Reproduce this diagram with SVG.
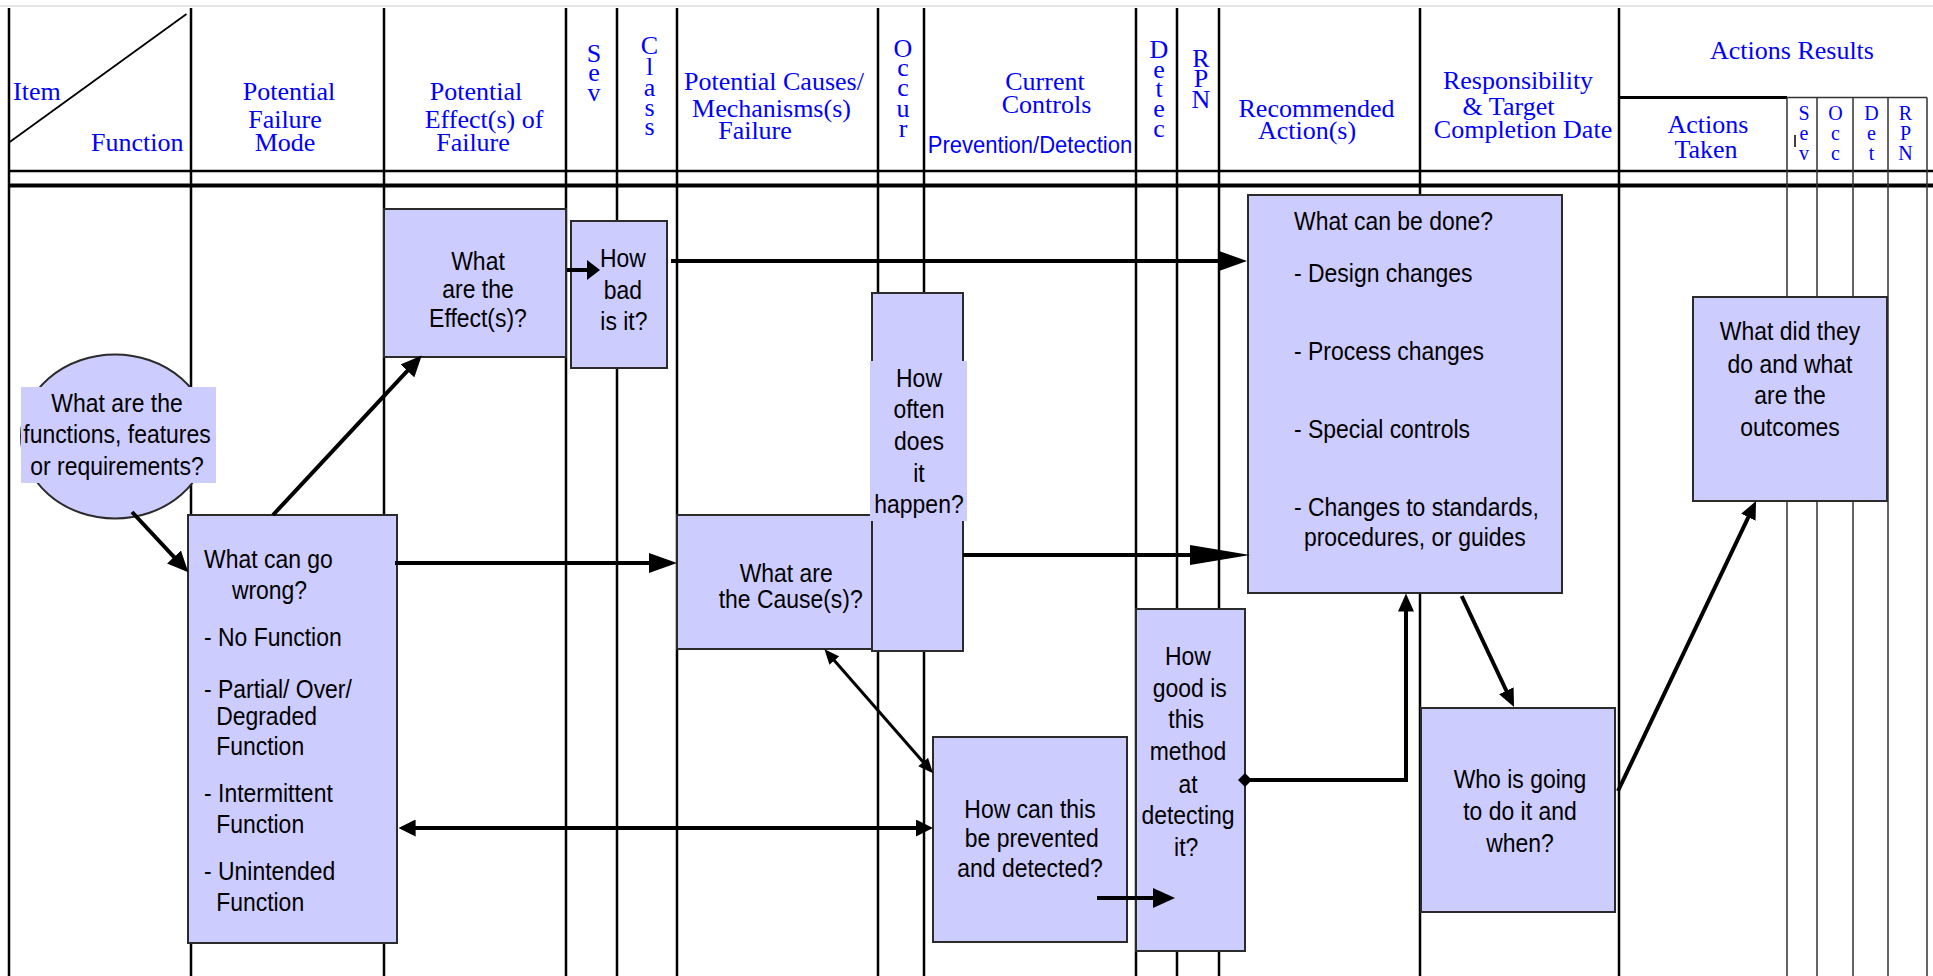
<svg xmlns="http://www.w3.org/2000/svg" width="1933" height="976" viewBox="0 0 1933 976">
  <style>
    .grid { stroke: #000; stroke-width: 2.5; fill: none; }
    .thin { stroke: #333; stroke-width: 1.5; fill: none; }
    .box { fill: #CCCCFF; stroke: #2b2b2b; stroke-width: 2; }
    .lbl { fill: #CCCCFF; stroke: none; }
    .h { font-family: "Liberation Serif", "Times New Roman", serif; font-size: 26px; fill: #0000FF; text-anchor: middle; }
    .hs { font-family: "Liberation Serif", "Times New Roman", serif; font-size: 20px; fill: #0000FF; text-anchor: middle; }
    .hl { text-anchor: start; }
    .hsans { font-family: "Liberation Sans", Arial, sans-serif; font-size: 24.5px; fill: #0000FF; text-anchor: middle; }
    .t { font-family: "Liberation Sans", Arial, sans-serif; font-size: 25.5px; fill: #000; }
    .c { text-anchor: middle; }
    .con { stroke: #000; stroke-width: 4; fill: none; stroke-linecap: butt; stroke-linejoin: miter; }
    .con3 { stroke: #000; stroke-width: 3; fill: none; }
  </style>
  <defs>
    <marker id="hA" viewBox="0 0 21 19" refX="16" refY="9.5" markerWidth="21" markerHeight="19" markerUnits="userSpaceOnUse" orient="auto-start-reverse"><path d="M0,0 L21,9.5 L0,19 Z" fill="#000"/></marker>
    <marker id="hB" viewBox="0 0 28 20" refX="22" refY="10" markerWidth="28" markerHeight="20" markerUnits="userSpaceOnUse" orient="auto-start-reverse"><path d="M0,0 L28,10 L0,20 Z" fill="#000"/></marker>
    <marker id="hC" viewBox="0 0 60 20" refX="48" refY="10" markerWidth="60" markerHeight="20" markerUnits="userSpaceOnUse" orient="auto-start-reverse"><path d="M0,0 L60,10 L0,20 Z" fill="#000"/></marker>
    <marker id="hD" viewBox="0 0 17 17" refX="13" refY="8.5" markerWidth="17" markerHeight="17" markerUnits="userSpaceOnUse" orient="auto-start-reverse"><path d="M0,0 L17,8.5 L0,17 Z" fill="#000"/></marker>
    <marker id="hE" viewBox="0 0 15 13" refX="11" refY="6.5" markerWidth="15" markerHeight="13" markerUnits="userSpaceOnUse" orient="auto-start-reverse"><path d="M0,0 L15,6.5 L0,13 Z" fill="#000"/></marker>
    <marker id="hF" viewBox="0 0 18 16" refX="13" refY="8" markerWidth="18" markerHeight="16" markerUnits="userSpaceOnUse" orient="auto-start-reverse"><path d="M0,0 L18,8 L0,16 Z" fill="#000"/></marker>
    <marker id="hG" viewBox="0 0 13 20" refX="10" refY="10" markerWidth="13" markerHeight="20" markerUnits="userSpaceOnUse" orient="auto-start-reverse"><path d="M0,0 L13,10 L0,20 Z" fill="#000"/></marker>
    <marker id="hH" viewBox="0 0 22 20" refX="17" refY="10" markerWidth="22" markerHeight="20" markerUnits="userSpaceOnUse" orient="auto-start-reverse"><path d="M0,0 L22,10 L0,20 Z" fill="#000"/></marker>
    <marker id="dia" viewBox="0 0 14 14" refX="7" refY="7" markerWidth="14" markerHeight="14" markerUnits="userSpaceOnUse" orient="auto"><path d="M0,7 L7,0 L14,7 L7,14 Z" fill="#000"/></marker>
  </defs>

  <rect width="1933" height="976" fill="#fff"/>

  <!-- worksheet grid -->
  <g id="grid">
    <line x1="0" y1="6" x2="1933" y2="6" stroke="#dcdcdc" stroke-width="1.5"/>
    <path class="grid" d="M9,8V976 M191,8V976 M384,8V976 M566,8V976 M617,8V976 M677,8V976 M878,8V976 M924,8V976 M1136,8V976 M1177,8V976 M1219,8V976 M1420,8V976 M1619,8V976"/>
    <line x1="9" y1="142.5" x2="186.5" y2="14" stroke="#000" stroke-width="1.8"/>
    <line x1="9" y1="171" x2="1933" y2="171" stroke="#000" stroke-width="2.5"/>
    <line x1="9" y1="185.5" x2="1933" y2="185.5" stroke="#000" stroke-width="4"/>
    <line x1="1619" y1="97.5" x2="1787" y2="97.5" stroke="#000" stroke-width="3"/>
    <path class="thin" d="M1787,97.5H1927 M1787,97.5V976 M1817,97.5V976 M1853,97.5V976 M1888,97.5V976 M1927,97.5V976"/>
    <line x1="1795" y1="135" x2="1795" y2="147" stroke="#000" stroke-width="1.5"/>
  </g>

  <!-- column headings -->
  <g id="headings">
    <text class="h hl" x="13" y="100">Item</text>
    <text class="h hl" x="91" y="151">Function</text>
    <text class="h" x="289" y="100">Potential</text>
    <text class="h" x="285" y="128">Failure</text>
    <text class="h" x="285" y="151">Mode</text>
    <text class="h" x="476" y="100">Potential</text>
    <text class="h" x="484" y="128">Effect(s) of</text>
    <text class="h" x="473" y="151">Failure</text>
    <text class="h"><tspan x="594" y="62">S</tspan><tspan x="594" y="81">e</tspan><tspan x="594" y="101">v</tspan></text>
    <text class="h"><tspan x="649.5" y="54">C</tspan><tspan x="649.5" y="75">l</tspan><tspan x="649.5" y="96">a</tspan><tspan x="649.5" y="116">s</tspan><tspan x="649.5" y="135">s</tspan></text>
    <text class="h" x="774" y="90">Potential Causes/</text>
    <text class="h" x="771.5" y="117">Mechanisms(s)</text>
    <text class="h" x="755" y="139">Failure</text>
    <text class="h"><tspan x="903" y="57">O</tspan><tspan x="903" y="76">c</tspan><tspan x="903" y="96">c</tspan><tspan x="903" y="117">u</tspan><tspan x="903" y="137">r</tspan></text>
    <text class="h" x="1045" y="90">Current</text>
    <text class="h" x="1046.5" y="113">Controls</text>
    <text class="hsans" x="1030" y="153" transform="matrix(0.9 0 0 1 103 0)">Prevention/Detection</text>
    <text class="h"><tspan x="1159" y="58">D</tspan><tspan x="1159" y="78">e</tspan><tspan x="1159" y="97">t</tspan><tspan x="1159" y="117">e</tspan><tspan x="1159" y="137">c</tspan></text>
    <text class="h"><tspan x="1201" y="67">R</tspan><tspan x="1201" y="87">P</tspan><tspan x="1201" y="108">N</tspan></text>
    <text class="h" x="1316.5" y="117">Recommended</text>
    <text class="h" x="1307" y="139">Action(s)</text>
    <text class="h" x="1518" y="89">Responsibility</text>
    <text class="h" x="1508.5" y="115">&amp; Target</text>
    <text class="h" x="1523" y="138">Completion Date</text>
    <text class="h" x="1792" y="59">Actions Results</text>
    <text class="h" x="1708" y="133">Actions</text>
    <text class="h" x="1706" y="158">Taken</text>
    <text class="hs"><tspan x="1804" y="120">S</tspan><tspan x="1804" y="140">e</tspan><tspan x="1804" y="160">v</tspan></text>
    <text class="hs"><tspan x="1835.5" y="120">O</tspan><tspan x="1835.5" y="140">c</tspan><tspan x="1835.5" y="160">c</tspan></text>
    <text class="hs"><tspan x="1871.5" y="120">D</tspan><tspan x="1871.5" y="140">e</tspan><tspan x="1871.5" y="160">t</tspan></text>
    <text class="hs"><tspan x="1905.5" y="120">R</tspan><tspan x="1905.5" y="140">P</tspan><tspan x="1905.5" y="160">N</tspan></text>
  </g>

  <!-- nodes (body text is narrowed horizontally about its anchor) -->
  <g id="functions">
    <ellipse class="box" cx="115" cy="436.5" rx="94" ry="82" stroke-width="1.5"/>
    <rect class="lbl" x="21" y="387" width="195" height="96"/>
    <text class="t c" transform="matrix(0.9 0 0 1 11.7 0)"><tspan x="117" y="412">What are the</tspan><tspan x="117" y="443">functions, features</tspan><tspan x="117" y="475">or requirements?</tspan></text>
  </g>

  <g id="failure-mode">
    <rect class="box" x="188" y="515" width="209" height="428"/>
    <text class="t" transform="matrix(0.9 0 0 1 20.4 0)"><tspan x="204" y="568">What can go</tspan><tspan x="235" y="599">wrong?</tspan><tspan x="204" y="646">- No Function</tspan><tspan x="204" y="698">- Partial/ Over/</tspan><tspan x="217.5" y="725">Degraded</tspan><tspan x="217.5" y="755">Function</tspan><tspan x="204" y="802">- Intermittent</tspan><tspan x="217.5" y="833">Function</tspan><tspan x="204" y="880">- Unintended</tspan><tspan x="217.5" y="911">Function</tspan></text>
  </g>

  <g id="effects">
    <rect class="box" x="384" y="209" width="182" height="148"/>
    <text class="t c" transform="matrix(0.9 0 0 1 47.8 0)"><tspan x="478" y="270">What</tspan><tspan x="478" y="298">are the</tspan><tspan x="478" y="327">Effect(s)?</tspan></text>
  </g>

  <g id="severity">
    <rect class="box" x="571" y="221" width="96" height="147"/>
    <text class="t c" transform="matrix(0.9 0 0 1 62.3 0)"><tspan x="623" y="267">How</tspan><tspan x="623" y="299">bad</tspan><tspan x="624" y="330">is it?</tspan></text>
  </g>

  <g id="causes">
    <rect class="box" x="677" y="515" width="198" height="134"/>
    <text class="t c" transform="matrix(0.9 0 0 1 78.8 0)"><tspan x="786" y="582">What are</tspan><tspan x="791" y="608">the Cause(s)?</tspan></text>
  </g>

  <g id="occurrence">
    <rect class="box" x="872" y="293" width="91" height="358"/>
    <rect class="lbl" x="870" y="361" width="97" height="160"/>
    <text class="t c" transform="matrix(0.9 0 0 1 91.9 0)"><tspan x="919" y="387">How</tspan><tspan x="919" y="418">often</tspan><tspan x="919" y="450">does</tspan><tspan x="919" y="482">it</tspan><tspan x="919" y="513">happen?</tspan></text>
  </g>

  <g id="controls">
    <rect class="box" x="933" y="737" width="194" height="205"/>
    <text class="t c" transform="matrix(0.9 0 0 1 103 0)"><tspan x="1030" y="818">How can this</tspan><tspan x="1032" y="847">be prevented</tspan><tspan x="1030" y="877">and detected?</tspan></text>
  </g>

  <g id="detection">
    <rect class="box" x="1136" y="609" width="109" height="342"/>
    <text class="t c" transform="matrix(0.9 0 0 1 118.8 0)"><tspan x="1188" y="665">How</tspan><tspan x="1190" y="697">good is</tspan><tspan x="1186" y="728">this</tspan><tspan x="1188" y="760">method</tspan><tspan x="1188" y="793">at</tspan><tspan x="1188" y="824">detecting</tspan><tspan x="1186" y="856">it?</tspan></text>
  </g>

  <g id="recommended">
    <rect class="box" x="1248" y="195" width="314" height="398"/>
    <text class="t" transform="matrix(0.9 0 0 1 129.4 0)"><tspan x="1294" y="230">What can be done?</tspan><tspan x="1294" y="282">- Design changes</tspan><tspan x="1294" y="360">- Process changes</tspan><tspan x="1294" y="438">- Special controls</tspan><tspan x="1294" y="516">- Changes to standards,</tspan><tspan x="1305" y="546">procedures, or guides</tspan></text>
  </g>

  <g id="responsibility">
    <rect class="box" x="1421" y="708" width="194" height="204"/>
    <text class="t c" transform="matrix(0.9 0 0 1 152 0)"><tspan x="1520" y="788">Who is going</tspan><tspan x="1520" y="820">to do it and</tspan><tspan x="1520" y="852">when?</tspan></text>
  </g>

  <g id="results">
    <rect class="box" x="1693" y="297" width="194" height="204"/>
    <text class="t c" transform="matrix(0.9 0 0 1 179 0)"><tspan x="1790" y="340">What did they</tspan><tspan x="1790" y="373">do and what</tspan><tspan x="1790" y="404">are the</tspan><tspan x="1790" y="436">outcomes</tspan></text>
  </g>

  <!-- connectors -->
  <g id="connectors">
    <line class="con" x1="132" y1="512" x2="184.9" y2="568.6" marker-end="url(#hA)"/>
    <line class="con" x1="273" y1="515" x2="418.3" y2="359.2" marker-end="url(#hA)"/>
    <line class="con" x1="567" y1="270" x2="597" y2="270" marker-end="url(#hG)"/>
    <line class="con" x1="395" y1="563" x2="671" y2="563" marker-end="url(#hB)"/>
    <line class="con" x1="671" y1="261" x2="1241" y2="261" marker-end="url(#hB)"/>
    <line class="con" x1="963" y1="555" x2="1238" y2="555" marker-end="url(#hC)"/>
    <line class="con" x1="402.6" y1="828" x2="929" y2="828" marker-start="url(#hD)" marker-end="url(#hD)"/>
    <line class="con3" x1="827.1" y1="652.3" x2="930.4" y2="770.3" marker-start="url(#hE)" marker-end="url(#hE)"/>
    <line class="con" x1="1097" y1="898" x2="1170" y2="898" marker-end="url(#hH)"/>
    <path class="con" d="M1245,780 H1406 V598.5" marker-start="url(#dia)" marker-end="url(#hF)"/>
    <line class="con" x1="1461.7" y1="596" x2="1511.9" y2="702.5" marker-end="url(#hF)"/>
    <line class="con" x1="1618" y1="791" x2="1753.9" y2="505.5" marker-end="url(#hF)"/>
  </g>
</svg>
